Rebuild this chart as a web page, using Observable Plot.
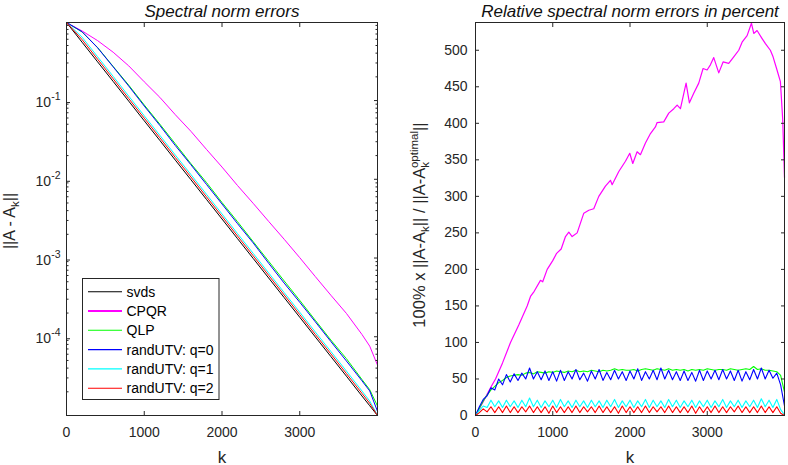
<!DOCTYPE html>
<html><head><meta charset="utf-8">
<script src="https://cdn.jsdelivr.net/npm/d3@7"></script>
<script src="https://cdn.jsdelivr.net/npm/@observablehq/plot@0.6"></script>
<style>
body{margin:0;background:#fff;}
#fig{position:relative;width:788px;height:465px;display:flex;background:#fff;}
#fig svg{display:block;flex:none;}
</style></head><body><div id="fig"></div>
<script>
// ---------- data ----------
const seriesNames = ["svds","CPQR","QLP","randUTV: q=0","randUTV: q=1","randUTV: q=2"];
const seriesColors = ["#000000","#ff00ff","#00ff00","#0000ff","#00ffff","#ff0000"];
const xTicks = [0,1000,2000,3000];
const logTicks = [1e-1,1e-2,1e-3,1e-4];
const logTickLabels = ["10^-1","10^-2","10^-3","10^-4"];
const minorMantissas = [2,3,4,5,6,7,8,9];
const minorExponents = [-5,-4,-3,-2,-1];
const relTicks = [0,50,100,150,200,250,300,350,400,450,500];

// left panel: spectral norm errors ||A - A_k||
const kLeft = [0,200,400,600,800,1000,1200,1400,1600,1800,2000,2200,2400,2600,2800,3000,3200,3400,3600,3800,3900,4000];
const svdsErr = [0.98,0.551,0.310,0.175,0.0984,0.0553,0.0312,0.0175,0.00988,0.00556,0.00313,0.00176,0.000991,0.000558,0.000314,0.000177,0.0000995,0.0000561,0.0000316,0.0000177,0.0000133,0.0000100];
const cpqrErr = [0.98,0.766,0.577,0.411,0.276,0.173,0.110,0.0660,0.0407,0.0240,0.0143,0.00832,0.00496,0.00292,0.00173,0.00101,0.000581,0.000337,0.000198,0.000107,0.0000760,0.0000436];
const qlpErr  = [0.98,0.744,0.471,0.271,0.157,0.0879,0.0502,0.0282,0.0158,0.00912,0.00507,0.00289,0.00162,0.000910,0.000512,0.000290,0.000162,0.0000909,0.0000528,0.0000287,0.0000213,0.0000132];
const q0Err   = [0.98,0.749,0.468,0.268,0.153,0.0852,0.0484,0.0268,0.0153,0.00862,0.00485,0.00273,0.00156,0.000859,0.000480,0.000274,0.000155,0.0000870,0.0000493,0.0000276,0.0000205,0.0000113];
const q1Err   = [0.98,0.639,0.360,0.203,0.114,0.0641,0.0362,0.0203,0.0115,0.00645,0.00363,0.00204,0.00115,0.000647,0.000364,0.000205,0.000115,0.0000651,0.0000367,0.0000205,0.0000153,0.0000101];
const q2Err   = [0.98,0.595,0.335,0.189,0.106,0.0597,0.0337,0.0189,0.0107,0.00600,0.00338,0.00190,0.00107,0.000603,0.000339,0.000191,0.000107,0.0000606,0.0000341,0.0000191,0.0000143,0.0000100];

// right panel: relative errors in percent (sampled every 50)
const kGrid = d3.range(0, 4001, 50);
const qlpRel = [0,10,20,28,35,40,45,48,52,54,55,56,55,58,59,57,60,59,58,60,59,61,60,59,61,60,62,60,61,60,62,61,60,62,61,62,64,62,63,62,62,63,61,63,64,63,62,64,63,62,64,62,63,62,63,61,63,62,63,62,64,63,62,63,63,62,64,63,62,63,64,63,67,63,64,62,62,61,60,55,32];
const q0Rel = [0,12,22,27,38,35,50,42,56,46,57,48,58,50,65,50,60,49,61,48,60,47,62,48,60,50,63,49,58,47,61,50,63,48,59,49,62,50,60,48,61,50,64,48,60,50,62,49,65,50,62,49,60,48,61,48,59,47,62,48,61,50,62,49,63,50,61,48,62,47,60,49,63,50,65,50,62,51,58,42,13];
const q1Rel = [0,7,13,11,21,12,20,11,21,12,20,11,21,12,24,12,21,11,20,12,21,11,22,12,20,11,21,12,20,11,21,12,20,11,21,12,22,11,20,12,21,11,20,12,22,11,21,12,20,11,22,12,21,11,20,12,21,11,20,12,21,11,20,12,22,11,20,12,21,11,20,12,21,11,23,12,21,11,22,8,1];
const q2Rel = [0,4,9,5,12,4,12,4,13,4,12,4,12,5,13,4,12,4,12,3,13,4,12,4,12,4,13,4,12,5,12,4,13,4,12,4,12,3,13,4,12,4,12,4,13,4,12,5,12,4,13,4,12,4,12,4,13,3,12,4,12,4,13,4,12,4,12,5,13,4,12,4,12,4,13,4,12,4,12,3,0];
const cpqrK = [0,100,200,259,350,453,560,669,712,760,841,870,928,1000,1050,1109,1165,1208,1251,1316,1402,1467,1531,1596,1682,1747,1769,1855,1941,1997,2036,2092,2135,2200,2265,2329,2351,2437,2502,2567,2610,2653,2726,2769,2825,2890,2946,2998,3041,3084,3149,3205,3278,3343,3408,3451,3516,3572,3602,3645,3710,3753,3817,3852,3903,3947,3977,4000];
const cpqrRel = [0,19,39,50,72,100,124,150,163,170,185,183,200,212,222,228,245,251,245,250,277,281,283,300,314,322,316,334,348,359,345,361,357,373,386,395,401,402,414,420,425,420,455,428,441,455,475,473,480,490,469,484,482,491,500,511,520,537,523,527,516,509,500,491,473,457,405,326];

const leftSeries = [svdsErr, cpqrErr, qlpErr, q0Err, q1Err, q2Err];

// ---------- layout ----------
const FONT = "'Liberation Sans', Arial, Helvetica, sans-serif";
const AX = "#262626";
const W = 394, H = 465;
const minorTicks = minorExponents.flatMap(e => minorMantissas.map(m => m * Math.pow(10, e))).filter(v => v < 0.98);

const commonStyle = {fontFamily: FONT, fontSize: "14px", color: AX, background: "transparent", overflow: "visible"};

const left = Plot.plot({
  width: W, height: H,
  marginLeft: 66, marginRight: 17, marginTop: 22, marginBottom: 50,
  style: commonStyle,
  x: {domain: [0, 4000]},
  y: {type: "log", domain: [1.0e-5, 0.98]},
  marks: [
    ...leftSeries.map((arr, j) => Plot.line(kLeft, {x: d => d, y: (d, i) => arr[i], stroke: seriesColors[j], strokeWidth: 1})),
    Plot.frame({stroke: AX, strokeWidth: 1}),
    Plot.axisX({ticks: xTicks, tickSize: -4, tickPadding: 16, label: null, tickFormat: d => String(d)}),
    Plot.axisX({anchor: "top", ticks: xTicks, tickSize: -4, label: null, tickFormat: () => ""}),
    Plot.axisY({ticks: logTicks, tickSize: -4, tickPadding: 10, dy: 2, label: null, tickFormat: d => logTickLabels[logTicks.indexOf(d)]}),
    Plot.axisY({anchor: "right", ticks: logTicks, tickSize: -4, label: null, tickFormat: () => ""}),
    Plot.axisY({ticks: minorTicks, tickSize: -2.5, label: null, tickFormat: () => ""}),
    Plot.axisY({anchor: "right", ticks: minorTicks, tickSize: -2.5, label: null, tickFormat: () => ""}),
    Plot.text(["Spectral norm errors"], {text: d => d, frameAnchor: "top", dy: -6, lineAnchor: "bottom", fontSize: 17, fontStyle: "italic", fill: "#111"}),
    Plot.text(["k"], {text: d => d, frameAnchor: "bottom", dy: 47, lineAnchor: "bottom", fontSize: 17, fill: AX})
  ]
});

const rightLines = [
  {k: cpqrK, v: cpqrRel, c: seriesColors[1], w: 1.2},
  {k: kGrid, v: qlpRel, c: seriesColors[2], w: 1.1},
  {k: kGrid, v: q0Rel, c: seriesColors[3], w: 1.1},
  {k: kGrid, v: q1Rel, c: seriesColors[4], w: 1.1},
  {k: kGrid, v: q2Rel, c: seriesColors[5], w: 1.1}
];

const right = Plot.plot({
  width: W, height: H,
  marginLeft: 81, marginRight: 4, marginTop: 22, marginBottom: 50,
  style: commonStyle,
  x: {domain: [0, 4000]},
  y: {domain: [0, 538]},
  marks: [
    ...rightLines.map(s => Plot.line(s.k, {x: d => d, y: (d, i) => s.v[i], stroke: s.c, strokeWidth: s.w})),
    Plot.frame({stroke: AX, strokeWidth: 1}),
    Plot.axisX({ticks: xTicks, tickSize: -4, tickPadding: 16, label: null, tickFormat: d => String(d)}),
    Plot.axisX({anchor: "top", ticks: xTicks, tickSize: -4, label: null, tickFormat: () => ""}),
    Plot.axisY({ticks: relTicks, tickSize: -4, tickPadding: 12, label: null, tickFormat: d => String(d)}),
    Plot.axisY({anchor: "right", ticks: relTicks, tickSize: -4, label: null, tickFormat: () => ""}),
    Plot.text(["Relative spectral norm errors in percent"], {text: d => d, frameAnchor: "top", dy: -6, lineAnchor: "bottom", fontSize: 17, fontStyle: "italic", fill: "#111"}),
    Plot.text(["k"], {text: d => d, frameAnchor: "bottom", dy: 47, lineAnchor: "bottom", fontSize: 17, fill: AX})
  ]
});

const fig = document.getElementById("fig");
fig.appendChild(left);
fig.appendChild(right);

// superscript exponents on log tick labels
d3.select(left).selectAll('g[aria-label="y-axis tick label"] text').each(function () {
  const t = this.textContent;
  if (!t || t.indexOf("^") < 0) return;
  const [base, exp] = t.split("^");
  const sel = d3.select(this);
  sel.text(null);
  sel.append("tspan").text(base);
  sel.append("tspan").attr("dy", "-7").attr("font-size", "10.5px").text(exp);
});

// y-axis labels with sub/superscripts
const yl = d3.select(left).append("text")
  .attr("transform", "translate(15,221) rotate(-90)")
  .attr("text-anchor", "middle").attr("font-size", "16px").attr("fill", AX).attr("font-family", FONT);
yl.append("tspan").text("||A - A");
yl.append("tspan").attr("dy", 4).attr("font-size", "11.5px").text("k");
yl.append("tspan").attr("dy", -4).text("||");

const yr = d3.select(right).append("text")
  .attr("transform", "translate(31,225) rotate(-90)")
  .attr("text-anchor", "middle").attr("font-size", "16.5px").attr("fill", AX).attr("font-family", FONT);
yr.append("tspan").text("100% x ||A-A");
yr.append("tspan").attr("dy", 4).attr("font-size", "11.5px").text("k");
yr.append("tspan").attr("dy", -4).text("|| / ||A-A");
yr.append("tspan").attr("dy", 4).attr("font-size", "11.5px").text("k");
yr.append("tspan").attr("dy", -11).attr("dx", -6).attr("font-size", "11.5px").text("optimal");
yr.append("tspan").attr("dy", 7).text("||");

// legend inside left axes
const lg = d3.select(left).append("g").attr("font-family", FONT).attr("font-size", "14px").attr("text-anchor", "start");
lg.append("rect").attr("x", 82.5).attr("y", 278.5).attr("width", 136.5).attr("height", 121)
  .attr("fill", "#fff").attr("stroke", AX).attr("stroke-width", 1);
seriesNames.forEach((name, i) => {
  const cy = 291.7 + i * 19.3;
  lg.append("line").attr("x1", 88).attr("x2", 122).attr("y1", cy).attr("y2", cy)
    .attr("stroke", seriesColors[i]).attr("stroke-width", i === 1 ? 1.8 : 1.1);
  lg.append("text").attr("x", 126.5).attr("y", cy).attr("dy", "0.36em").attr("text-anchor", "start").attr("fill", "#000").text(name);
});
</script>
</body></html>
